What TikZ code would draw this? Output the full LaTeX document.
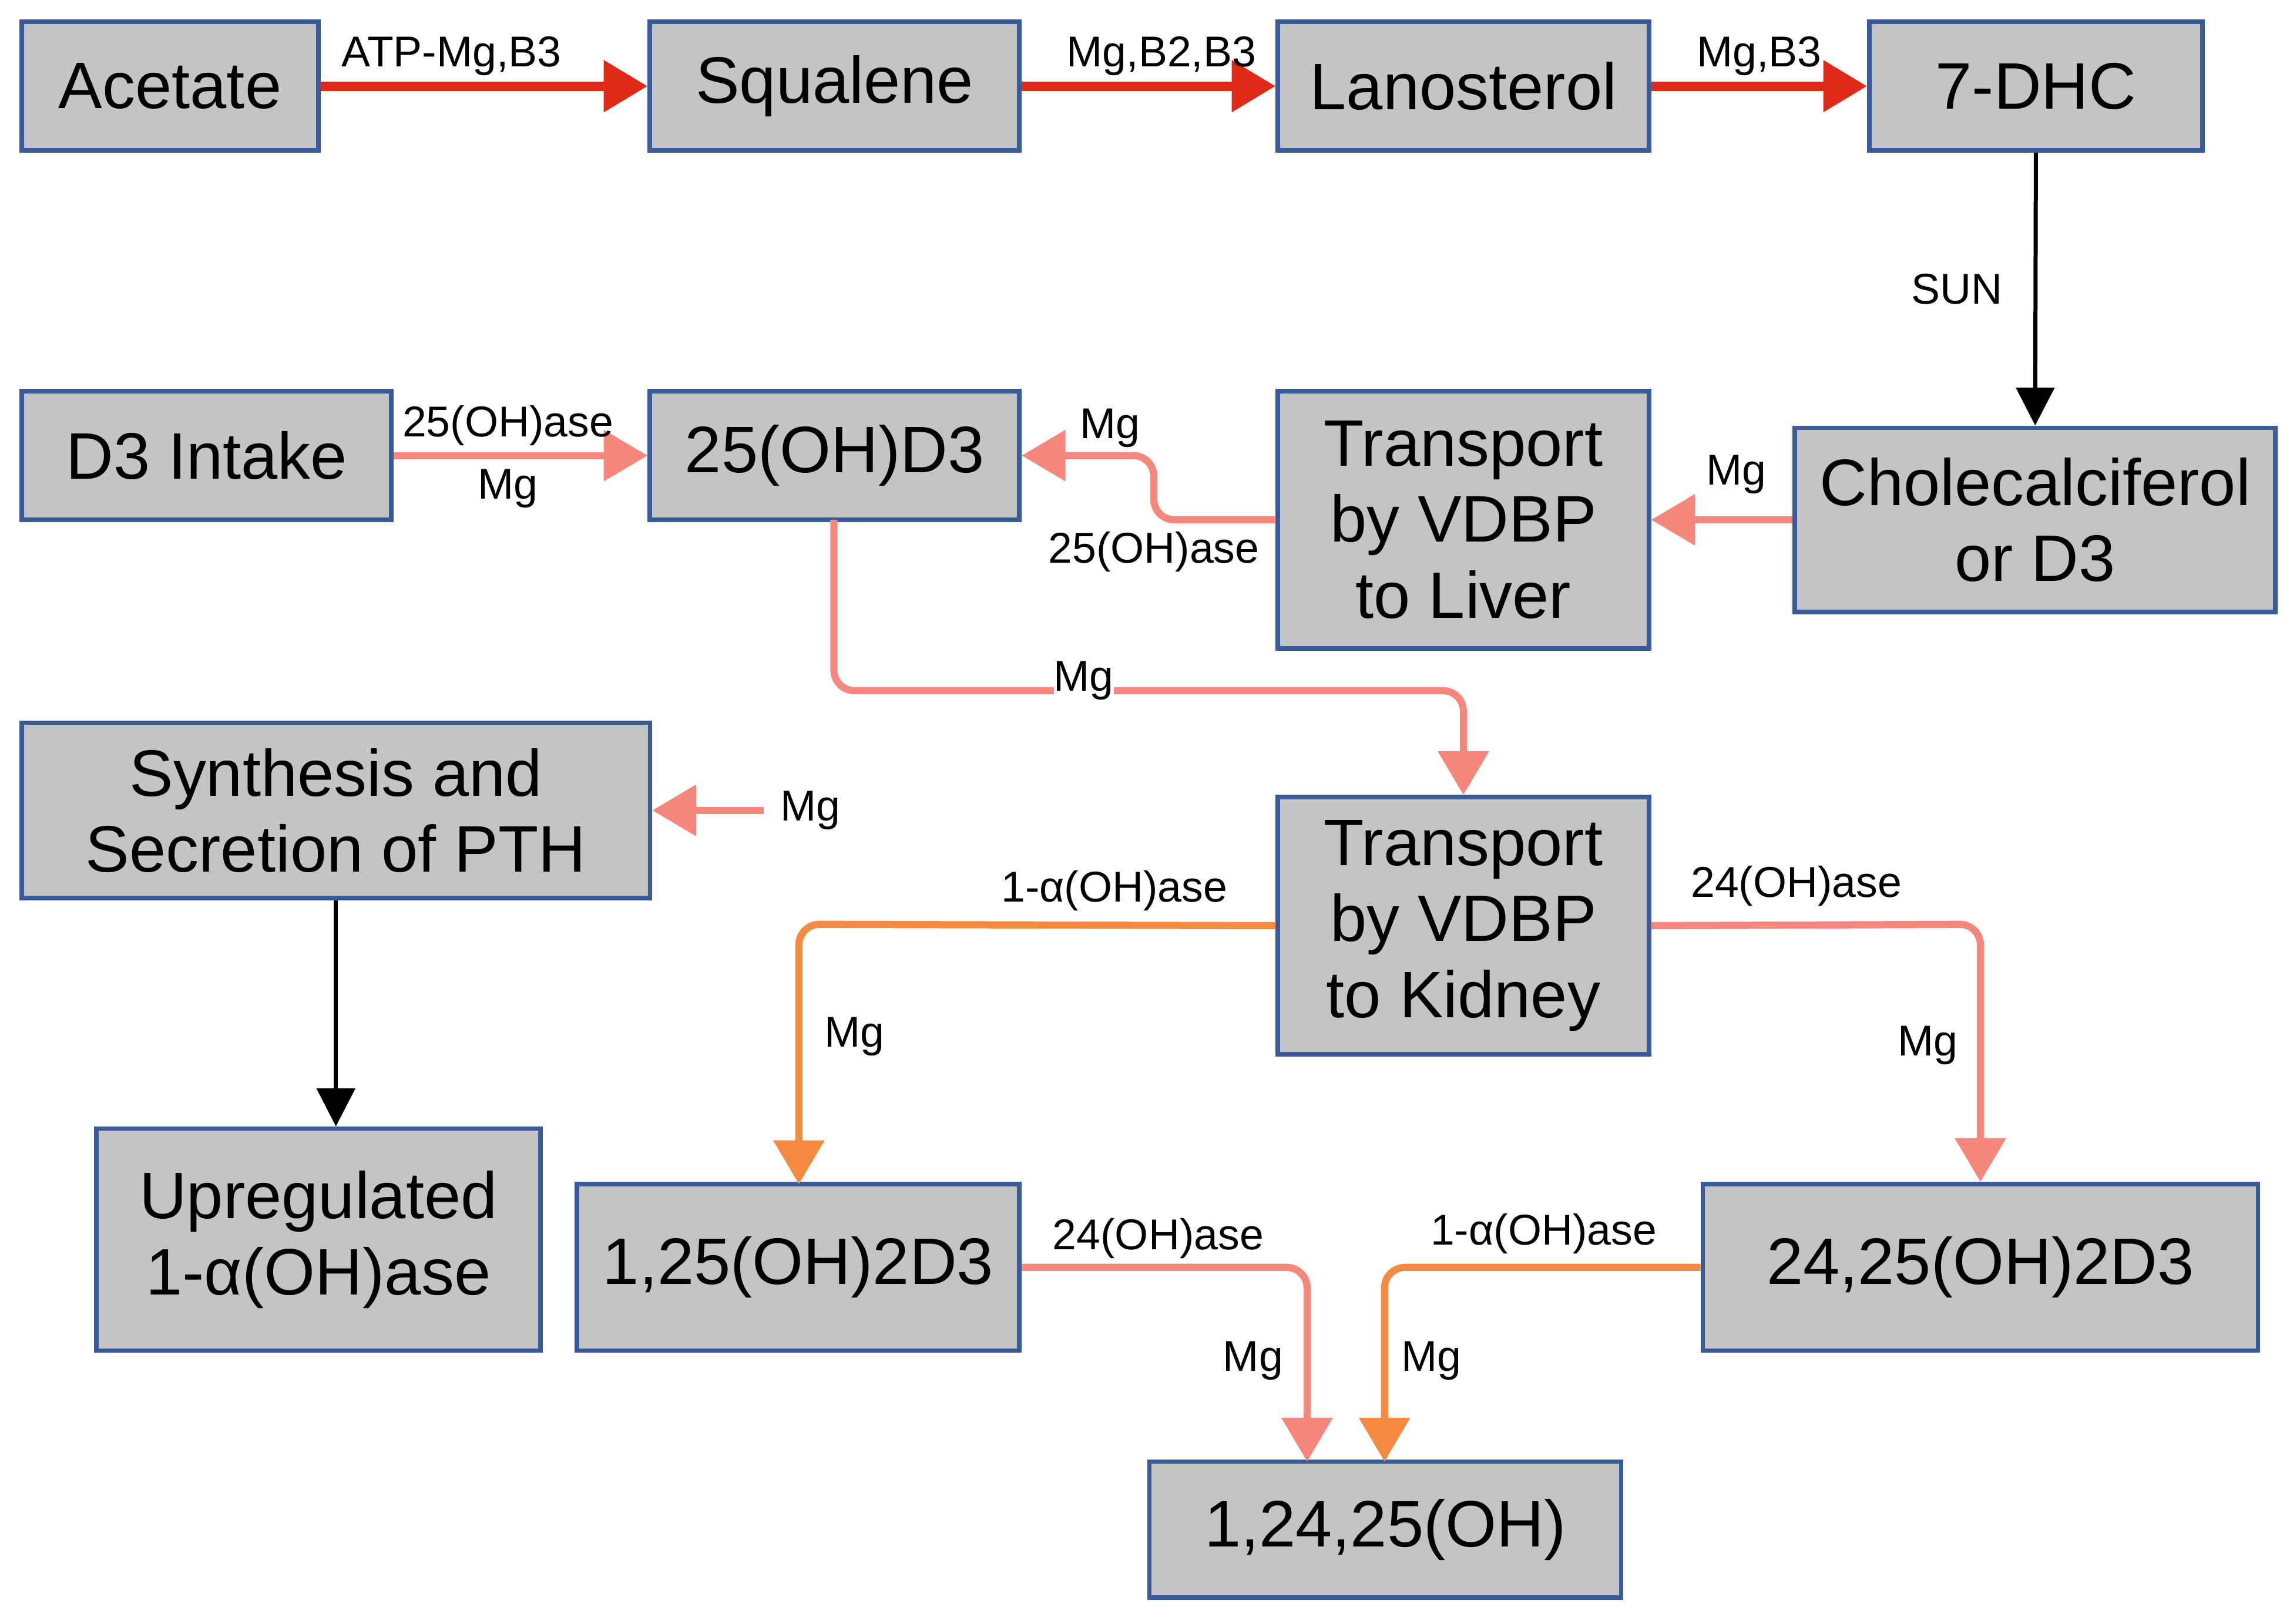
\documentclass[tikz,border=0pt]{standalone}
\usepackage{fontspec}
\setmainfont{Liberation Sans}
\usetikzlibrary{arrows.meta}
\definecolor{boxfill}{HTML}{C4C4C4}
\definecolor{boxline}{HTML}{3B5A9A}
\definecolor{cred}{HTML}{E02A18}
\definecolor{csal}{HTML}{F5877C}
\definecolor{corg}{HTML}{F58A40}
\begin{document}
\begin{tikzpicture}[x=0.025cm,y=-0.025cm,
 box/.style={draw=boxline,line width=2.2pt,fill=boxfill,align=center,inner sep=0pt,font=\fontsize{32}{37}\selectfont},
 lab/.style={font=\fontsize{21}{24}\selectfont,inner sep=1pt},
 arr/.style={line width=3.5pt,rounded corners=10pt,-{Triangle[length=0.75cm,width=0.85cm]}},
 red/.style={arr,draw=cred,line width=4.5pt},
 sal/.style={arr,draw=csal},
 org/.style={arr,draw=corg},
 blk/.style={line width=2pt,-{Triangle[length=0.65cm,width=0.65cm]}}]
\useasboundingbox (0,0) rectangle (1568,1112);
\node[box,minimum width=5.075cm,minimum height=2.2cm] (ace) at (116.5,59) {Acetate};
\node[box,minimum width=6.325cm,minimum height=2.2cm] (squ) at (571.5,59) {Squalene};
\node[box,minimum width=6.35cm,minimum height=2.2cm] (lan) at (1002,59) {Lanosterol};
\node[box,minimum width=5.7cm,minimum height=2.2cm] (dhc) at (1394,59) {7-DHC};
\node[box,minimum width=6.325cm,minimum height=2.2cm] (int) at (141.5,312) {D3 Intake};
\node[box,minimum width=6.325cm,minimum height=2.2cm] (d25) at (571.5,312) {25(OH)D3};
\node[box,minimum width=6.35cm,minimum height=4.4cm] (liv) at (1002,356) {Transport\\by VDBP\\to Liver};
\node[box,minimum width=8.225cm,minimum height=3.15cm] (cho) at (1393.5,356) {Cholecalciferol\\or D3};
\node[box,minimum width=10.75cm,minimum height=3.0cm] (pth) at (230,555) {Synthesis and\\Secretion of PTH};
\node[box,minimum width=6.35cm,minimum height=4.4cm] (kid) at (1002,634) {Transport\\by VDBP\\to Kidney};
\node[box,minimum width=7.6cm,minimum height=3.8cm] (upr) at (218,849) {Upregulated\\1-α(OH)ase};
\node[box,minimum width=7.575cm,minimum height=2.85cm] (d125) at (546.5,868) {1,25(OH)2D3};
\node[box,minimum width=9.5cm,minimum height=2.85cm] (d2425) at (1356,868) {24,25(OH)2D3};
\node[box,minimum width=8.075cm,minimum height=2.325cm] (d12425) at (948.5,1047.5) {1,24,25(OH)};
% top row
\draw[red] (ace) -- (squ) node[lab,pos=0.4,above=2pt] {ATP-Mg,B3};
\draw[red] (squ) -- (lan) node[lab,pos=0.55,above=2pt] {Mg,B2,B3};
\draw[red] (lan) -- (dhc) node[lab,pos=0.5,above=2pt] {Mg,B3};
\draw[blk] (dhc.south) -- (cho.north) node[lab,pos=0.5,left=14pt] {SUN};
\draw[sal] (int) -- (d25) node[lab,pos=0.45,above=2pt] {25(OH)ase} node[lab,pos=0.45,below=4pt] {Mg};
\draw[sal] (cho.west) -- (liv.east) node[lab,pos=0.4,above=10pt] {Mg};
\draw[sal] (liv.west) -- (790,356) -- (790,312) -- (d25.east);
\node[lab] (l1) at (760,293) {Mg};
\node[lab] (l2) at (790,378) {25(OH)ase};
\draw[sal] (571,356) -- (571,473) -- (1002,473) -- (kid.north);
\node[lab,fill=white,inner sep=0pt] (l3) at (742,466) {Mg};
\coordinate (mgp) at (523,555);
\node[lab] (l4) at (555,555) {Mg};
\draw[sal] (mgp) -- (pth.east);
\draw[blk] (pth.south) -- (upr.north -| pth.south);
\draw[org] (kid.west) -- (547,633) -- (547,811);
\node[lab] at (763,610) {1-α(OH)ase};
\node[lab] at (585,710) {Mg};
\draw[sal] (kid.east) -- (1356,633) -- (d2425.north);
\node[lab] at (1230,607) {24(OH)ase};
\node[lab] at (1320,716) {Mg};
\draw[sal] (d125.east) -- (895,868) -- (895,1001);
\node[lab] at (793,848) {24(OH)ase};
\node[lab] at (858,932) {Mg};
\draw[org] (d2425.west) -- (948,868) -- (948,1001);
\node[lab] at (1057,845) {1-α(OH)ase};
\node[lab] at (980,932) {Mg};
\end{tikzpicture}
\end{document}
